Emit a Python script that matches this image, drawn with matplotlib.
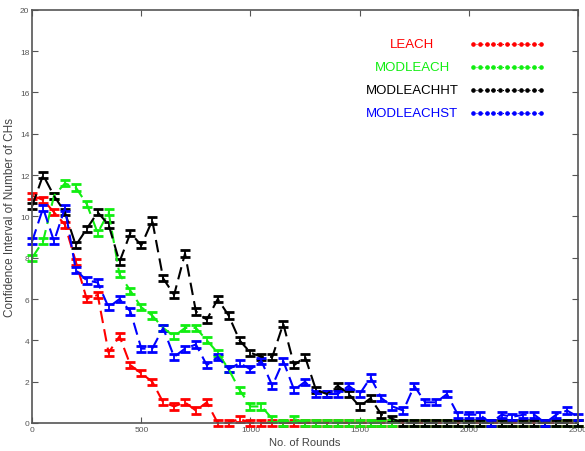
import numpy as np
import matplotlib
matplotlib.use("Agg")
import matplotlib.pyplot as plt

# rounds, one point every 50
rounds = np.arange(0, 2501, 50)

leach = [11.0, 10.8, 10.2, 9.6, 7.8, 6.0, 6.2, 3.4, 4.2, 2.8,
         2.4, 2.0, 1.0, 0.8, 1.0, 0.6, 1.0, 0.0, 0.0, 0.2,
         0.0, 0.0, 0.0, 0.0, 0.0, 0.0, 0.0, 0.0, 0.0, 0.0,
         0.0, 0.0, 0.0, 0.0, 0.0, 0.0, 0.0, 0.0, 0.0, 0.0,
         0.0, 0.0, 0.0, 0.0, 0.0, 0.0, 0.0, 0.0, 0.0, 0.0, 0.0]
modleach = [8.0, 8.8, 11.0, 11.6, 11.4, 10.6, 9.2, 10.2, 7.2, 6.4,
            5.6, 5.2, 4.6, 4.2, 4.6, 4.6, 4.0, 3.4, 2.6, 1.6,
            0.8, 0.8, 0.2, 0.0, 0.2, 0.0, 0.0, 0.0, 0.0, 0.0,
            0.0, 0.0, 0.0, 0.0, 0.0, 0.0, 0.0, 0.0, 0.0, 0.0,
            0.0, 0.0, 0.0, 0.0, 0.0, 0.0, 0.0, 0.0, 0.0, 0.0, 0.0]
modleachht = [10.5, 12.0, 11.0, 10.2, 8.6, 9.4, 10.2, 9.6, 7.8, 9.2,
              8.6, 9.8, 7.0, 6.2, 8.2, 5.4, 5.0, 6.0, 5.2, 4.0,
              3.4, 3.2, 3.2, 4.8, 2.8, 3.2, 1.6, 1.4, 1.8, 1.4,
              0.8, 1.2, 0.4, 0.2, 0.0, 0.0, 0.0, 0.0, 0.0, 0.0,
              0.0, 0.0, 0.0, 0.0, 0.0, 0.0, 0.0, 0.0, 0.0, 0.0, 0.0]
modleachst = [8.8, 10.4, 8.8, 10.4, 7.4, 6.9, 6.8, 5.6, 6.0, 5.4,
              3.6, 3.6, 4.6, 3.2, 3.6, 3.8, 2.8, 3.2, 2.6, 2.9,
              2.6, 3.0, 1.8, 3.0, 1.6, 2.0, 1.4, 1.4, 1.4, 1.8,
              1.4, 2.2, 1.2, 0.8, 0.6, 1.8, 1.0, 1.0, 1.4, 0.4,
              0.4, 0.4, 0.0, 0.4, 0.3, 0.4, 0.4, 0.0, 0.4, 0.6, 0.3]

names = ["LEACH", "MODLEACH", "MODLEACHHT", "MODLEACHST"]
colors = ["#ff0000", "#11ee11", "#000000", "#0000ff"]
series = [leach, modleach, modleachht, modleachst]
ci = 0.15  # half width of the error bars

plt.rcParams["font.family"] = ["Liberation Sans", "DejaVu Sans"]

fig = plt.figure(figsize=(5.85, 4.52), dpi=100)
ax = fig.add_axes([0.055, 0.062, 0.933, 0.914])

for vals, c in zip(series, colors):
    ax.errorbar(rounds, vals, yerr=ci, color=c, linestyle="--",
                dashes=(6, 3), linewidth=1.5, capsize=3.5, capthick=2.0,
                elinewidth=1.3, clip_on=False)

# legend drawn by hand: name centred, dotted sample to the right
for i, (name, c) in enumerate(zip(names, colors)):
    y = 0.918 - i * 0.056
    ax.text(0.696, y, name, color=c, fontsize=9.5, ha="center", va="center",
            transform=ax.transAxes)
    ax.plot(np.linspace(0.808, 0.932, 11), [y] * 11, color=c, linestyle=":",
            linewidth=0.8, marker="o", markersize=2.3, transform=ax.transAxes)

ax.set_xlim(0, 2500)
ax.set_ylim(0, 20)
ax.set_xticks([0, 500, 1000, 1500, 2000, 2500])
ax.set_yticks(np.arange(0, 21, 2))
ax.tick_params(direction="in", top=True, right=True, length=4, width=0.8,
               labelsize=6, labelcolor="#555555", color="#555555", pad=2)
for s in ax.spines.values():
    s.set_color("#555555")
    s.set_linewidth(1.2)

ax.set_xlabel("No. of Rounds", fontsize=8, color="#444444", labelpad=3)
ax.set_ylabel("Confidence Interval of Number of CHs", fontsize=8.5,
              color="#444444", labelpad=3)

fig.savefig("out.png", dpi=100, facecolor="white")
